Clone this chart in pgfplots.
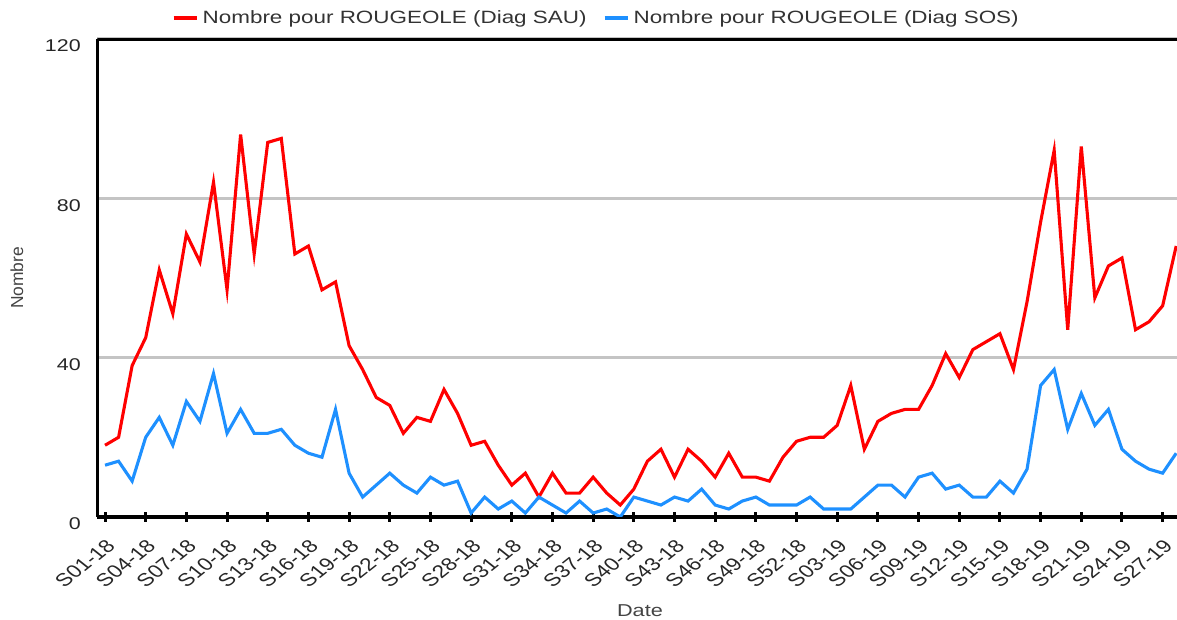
\documentclass[border=0pt]{standalone}
\usepackage{fontspec}
\setmainfont{Liberation Sans}
\newfontfamily\wide{Liberation Sans}[FakeStretch=1.26]
\usepackage{pgfplots}
\pgfplotsset{compat=1.18}
\usepackage{pgfplotstable}
\definecolor{sau}{HTML}{FF0000}
\definecolor{sos}{HTML}{1E90FF}
\definecolor{gridgray}{HTML}{C4C4C4}
\definecolor{textgray}{HTML}{333333}
\definecolor{labgray}{HTML}{444444}

\pgfplotstableread{
x sau sos
0 18 13
1 20 14
2 38 9
3 45 20
4 62 25
5 51 18
6 71 29
7 64 24
8 84 36
9 57 21
10 96 27
11 66 21
12 94 21
13 95 22
14 66 18
15 68 16
16 57 15
17 59 27
18 43 11
19 37 5
20 30 8
21 28 11
22 21 8
23 25 6
24 24 10
25 32 8
26 26 9
27 18 1
28 19 5
29 13 2
30 8 4
31 11 1
32 5 5
33 11 3
34 6 1
35 6 4
36 10 1
37 6 2
38 3 0
39 7 5
40 14 4
41 17 3
42 10 5
43 17 4
44 14 7
45 10 3
46 16 2
47 10 4
48 10 5
49 9 3
50 15 3
51 19 3
52 20 5
53 20 2
54 23 2
55 33 2
56 17 5
57 24 8
58 26 8
59 27 5
60 27 10
61 33 11
62 41 7
63 35 8
64 42 5
65 44 5
66 46 9
67 37 6
68 54 12
69 74 33
70 92 37
71 47 22
72 93 31
73 55 23
74 63 27
75 65 17
76 47 14
77 49 12
78 53 11
79 68 16
}\data

\begin{document}
\begin{tikzpicture}
\useasboundingbox (-48.65pt,-51.5pt) rectangle (539.85pt,258.5pt);
\begin{axis}[
  at={(0,0)}, anchor=south west,
  scale only axis, width=539.85pt, height=239.1pt,
  xmin=-0.57, xmax=79.06, ymin=0, ymax=120,
  axis lines*=left,
  axis line style={line width=1.65pt, black},
  /pgf/number format/assume math mode=true,
  xtick={0,3,...,78},
  xticklabels={S01-18,S04-18,S07-18,S10-18,S13-18,S16-18,S19-18,S22-18,S25-18,S28-18,S31-18,S34-18,S37-18,S40-18,S43-18,S46-18,S49-18,S52-18,S03-19,S06-19,S09-19,S12-19,S15-19,S18-19,S21-19,S24-19,S27-19},
  ytick={0,40,80,120},
  ymajorgrids,
  grid style={line width=1.35pt, gridgray},
  tick align=center,
  major tick length=5pt,
  x tick style={line width=1.5pt, black},
  y tick style={draw=none},
  x tick label style={font=\fontsize{9}{10}\selectfont, text=black!85, inner sep=0pt, anchor=east, xshift=3pt, yshift=-10.3pt, xscale=1.26, rotate=45},
  y tick label style={font=\wide\fontsize{8.5}{10}\selectfont, text=black!85, inner sep=0pt, anchor=east, xshift=-5.6pt, yshift=-3.5pt},
  xlabel={Date},
  xlabel style={at={(axis description cs:0.5026,-0.1965)}, anchor=center, font=\wide\fontsize{8.6}{10}\selectfont, text=labgray},
  ylabel={Nombre},
  ylabel style={at={(axis description cs:-0.0744,0.5)}, anchor=center, rotate=0, font=\fontsize{8.7}{10}\selectfont, text=labgray},
  legend style={at={(rel axis cs:0.463,1.0425)}, anchor=center, draw=none, fill=none, legend columns=2, font=\wide\fontsize{8.9}{10}\selectfont, text=textgray, inner sep=0pt, /tikz/every even column/.append style={column sep=6pt}},
  legend image code/.code={\draw[#1, line width=2pt] (0pt,0pt) -- (11.5pt,0pt);},
]
\addplot[sau, line width=1.55pt, mark=none] table[x=x, y=sau] {\data};
\addlegendentry{Nombre pour ROUGEOLE (Diag SAU)}
\addplot[sos, line width=1.55pt, mark=none] table[x=x, y=sos] {\data};
\addlegendentry{Nombre pour ROUGEOLE (Diag SOS)}
\draw[line width=1.65pt, black] ([yshift=-0.5pt]rel axis cs:0,1) -- ([yshift=-0.5pt]rel axis cs:1,1);
\end{axis}
\end{tikzpicture}
\end{document}
